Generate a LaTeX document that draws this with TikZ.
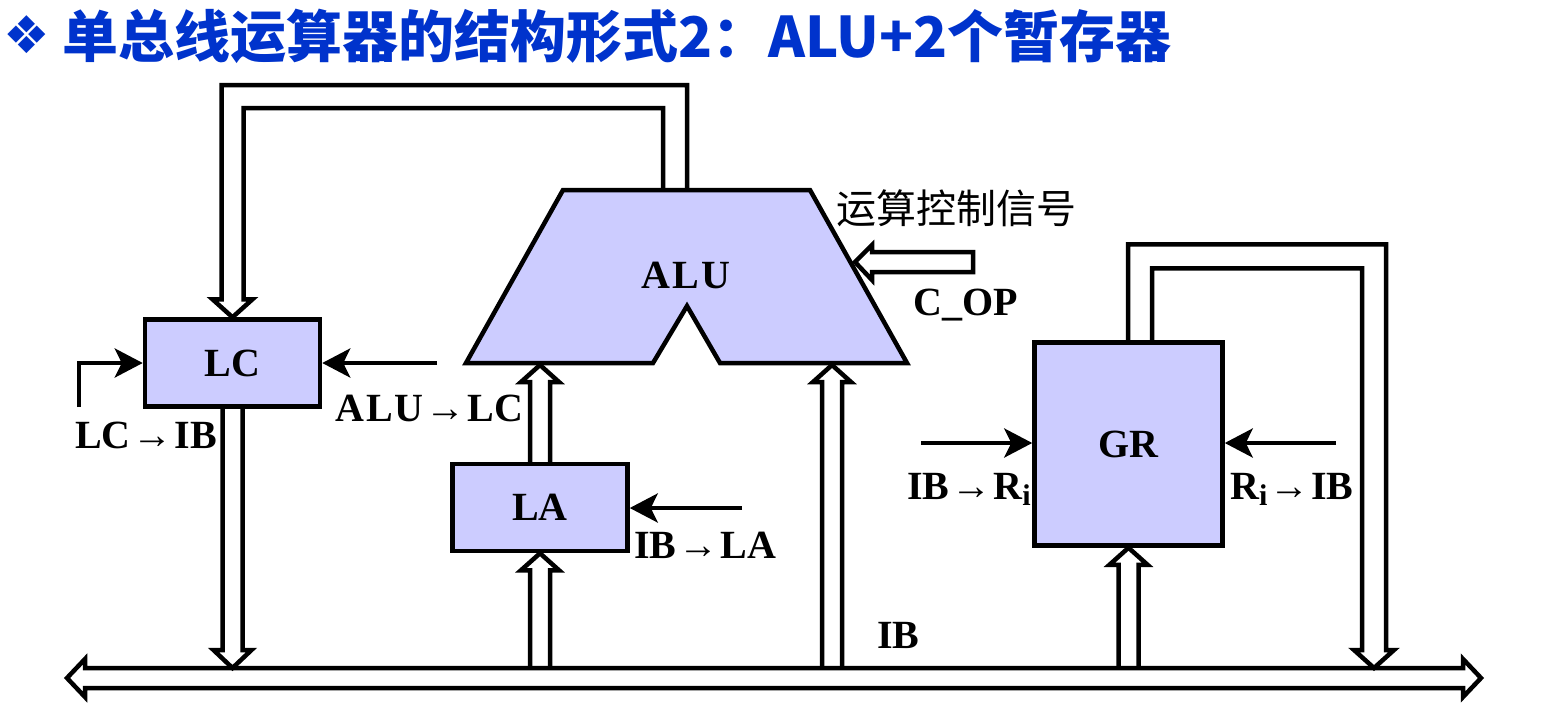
\documentclass[tikz,border=0pt]{standalone}
\usepackage{fontspec}
\setmainfont{Liberation Serif}
\newfontfamily\cjk{Noto Sans CJK SC}
\newfontfamily\dingfont{DejaVu Sans}
\usetikzlibrary{arrows.meta,calc}
\definecolor{boxfill}{HTML}{CCCCFF}
\definecolor{titleblue}{HTML}{0033CC}
\newcommand\lblfont{\fontsize{40}{42}\selectfont\bfseries}
\newcommand\sigarrow{\hspace{2pt}{\mdseries →}\hspace{2pt}}
\newcommand\subi{\raisebox{-6pt}{\fontsize{30}{30}\selectfont i}}
\tikzset{
  reg/.style={draw, line width=4.5pt, fill=boxfill, font=\lblfont, inner sep=0pt},
  hbus/.style={draw, line width=4.5pt, line join=miter},
  sig/.style={line width=4.5pt, -{Stealth[length=28pt,width=29pt,inset=7pt]}},
  lbl/.style={font=\lblfont, inner sep=0pt, anchor=base west},
}
% hollow bus arrow pointing up from #1 to the tip #2
\newcommand\busup[2]{%
  \draw[hbus] let \p1=(#1), \p2=(#2) in
    (\x1-10pt,\y1) -- (\x1-10pt,\y2-17pt) -- (\x1-19pt,\y2-17pt) -- (\x1,\y2)
    -- (\x1+19pt,\y2-17pt) -- (\x1+10pt,\y2-17pt) -- (\x1+10pt,\y1);}
% hollow bus arrow pointing down from #1 to the tip #2
\newcommand\busdown[2]{%
  \draw[hbus] let \p1=(#1), \p2=(#2) in
    (\x1-10pt,\y1) -- (\x1-10pt,\y2+18pt) -- (\x1-19pt,\y2+18pt) -- (\x1,\y2)
    -- (\x1+19pt,\y2+18pt) -- (\x1+10pt,\y2+18pt) -- (\x1+10pt,\y1);}
\begin{document}
\begin{tikzpicture}[x=1pt,y=-1pt]
\useasboundingbox (0,0) rectangle (1567,702);

% title
\node[inner sep=0pt, text=titleblue, font=\dingfont\fontsize{52}{52}\selectfont] (bullet) at (27,35) {❖};
\node[anchor=west, inner sep=0pt, text=titleblue, font=\cjk\bfseries\fontsize{56}{60}\selectfont] (title) at (62,36) {单总线运算器的结构形式2：ALU+2个暂存器};

% internal bus IB
\draw[hbus, fill=white] (85,668) -- (1463,668) -- (1463,659) -- (1481,678) -- (1463,697)
  -- (1463,688) -- (85,688) -- (85,697) -- (67,678) -- (85,659) -- cycle;
\coordinate (ibtop) at (760,668);
\node[lbl] (iblabel) at (877,648) {IB};

% ALU
\coordinate (alu-tl) at (563,190);
\coordinate (alu-tr) at (810,190);
\coordinate (alu-br) at (907,363);
\coordinate (alu-nr) at (720,363);
\coordinate (alu-apex) at (687,306);
\coordinate (alu-nl) at (653,363);
\coordinate (alu-bl) at (466,363);
\draw[line width=4.5pt, fill=boxfill] (alu-tl) -- (alu-tr) -- (alu-br) -- (alu-nr)
  -- (alu-apex) -- (alu-nl) -- (alu-bl) -- cycle;
\node[font=\lblfont, inner sep=0pt] (ALU) at (686,275) {A\hspace{2pt}L\hspace{2pt}U};
\coordinate (alu-inA) at (540,365);
\coordinate (alu-inB) at (832,365);
\coordinate (aluout) at (675,190);
\coordinate (aluop) at (855,262);

% registers
\node[reg, minimum width=175pt, minimum height=87pt] (LC) at (232.5,363) {LC};
\node[reg, minimum width=175pt, minimum height=87pt] (LA) at (540,507.5) {LA};
\node[reg, minimum width=188pt, minimum height=203pt] (GR) at (1128.5,444) {GR};

% bus transfers
\busdown{LC.south}{LC.south |- ibtop}
\busup{LA.south |- ibtop}{LA.south}
\busup{LA.north}{alu-inA}
\busup{alu-inB |- ibtop}{alu-inB}
\busup{GR.south |- ibtop}{GR.south}

% ALU output fed back to LC
\draw[hbus] let \p1=(aluout), \p2=(LC.north) in
  (\x1+12pt,\y1) -- (\x1+12pt,\y1+105pt) -- (\x2-11pt,\y1+105pt) -- (\x2-11pt,\y2+18pt)
  -- (\x2-20pt,\y2+18pt) -- (\x2,\y2) -- (\x2+20pt,\y2+18pt) -- (\x2+11pt,\y2+18pt)
  -- (\x2+11pt,\y1+82pt) -- (\x1-12pt,\y1+82pt) -- (\x1-12pt,\y1);

% GR output to the bus
\coordinate (grout) at ([xshift=11.5pt]GR.north);
\coordinate (grtip) at (1374,668);
\draw[hbus] let \p1=(grout), \p2=(grtip) in
  (\x1-12pt,\y1) -- (\x1-12pt,\y1+96pt) -- (\x2+12pt,\y1+96pt) -- (\x2+12pt,\y2+18pt)
  -- (\x2+20pt,\y2+18pt) -- (\x2,\y2) -- (\x2-20pt,\y2+18pt) -- (\x2-12pt,\y2+18pt)
  -- (\x2-12pt,\y1+72pt) -- (\x1+12pt,\y1+72pt) -- (\x1+12pt,\y1);

% operation control input
\coordinate (opsrc) at (973,262);
\draw[hbus, fill=white] let \p1=(opsrc), \p2=(aluop) in
  (\x1,\y1+10pt) -- (\x2+17pt,\y1+10pt) -- (\x2+17pt,\y1+17pt) -- (\x2,\y2)
  -- (\x2+17pt,\y1-18pt) -- (\x2+17pt,\y1-10pt) -- (\x1,\y1-10pt) -- cycle;
\node[font=\cjk\fontsize{40}{42}\selectfont, inner sep=0pt, anchor=west] (opname) at (836,208) {运算控制信号};
\node[lbl] (coplabel) at (913,315) {C\_OP};

% control signals
\coordinate (lcsrc) at (79,407);
\coordinate (alulc) at (437,363);
\coordinate (lasrc) at (742,508);
\coordinate (grl) at (921,443);
\coordinate (grr) at (1336,443);
\draw[sig] (lcsrc) |- (LC.west);
\draw[sig] (alulc) -- (alulc -| LC.east);
\draw[sig] (lasrc) -- (lasrc -| LA.east);
\draw[sig] (grl) -- (grl -| GR.west);
\draw[sig] (grr) -- (grr -| GR.east);

\node[lbl] (lcib) at (75,448) {LC\sigarrow IB};
\node[lbl] (alulcl) at (335,421) {A\hspace{2pt}L\hspace{2pt}U\sigarrow LC};
\node[lbl] (ibla) at (634,558) {IB\sigarrow LA};
\node[lbl] (ibri) at (907,499) {IB\sigarrow R\subi};
\node[lbl] (riib) at (1230,499) {R\subi\sigarrow IB};
\end{tikzpicture}
\end{document}
